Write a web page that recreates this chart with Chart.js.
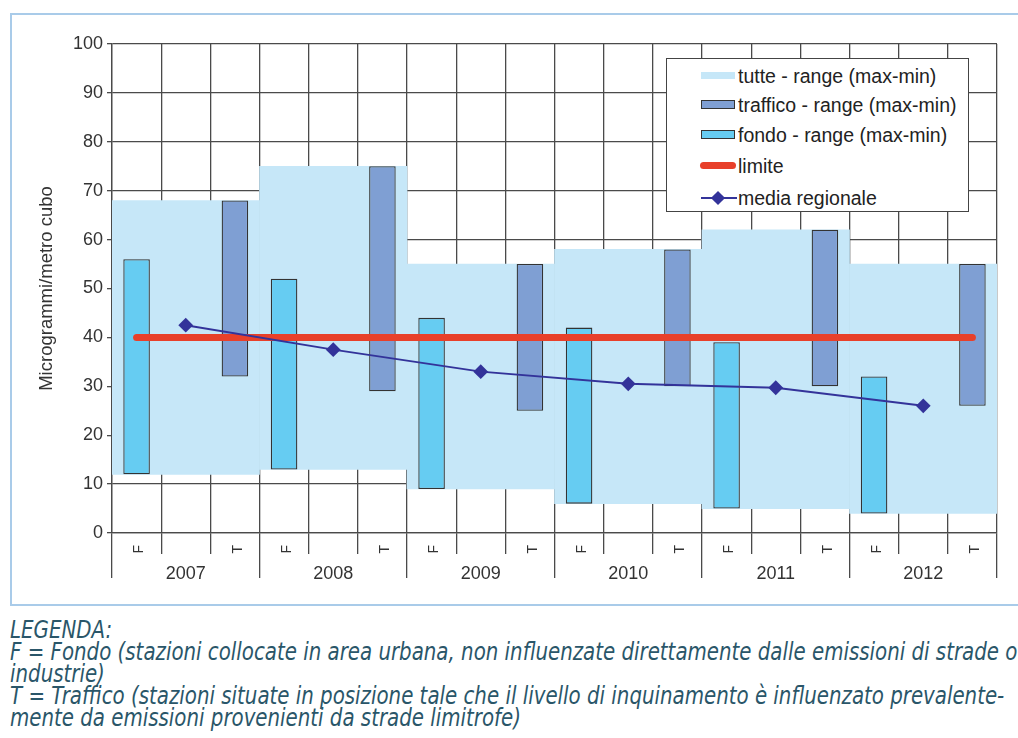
<!DOCTYPE html>
<html>
<head>
<meta charset="utf-8">
<script src="https://cdn.jsdelivr.net/npm/chart.js@4"></script>
<style>
  html, body { margin: 0; padding: 0; background: #fff; }
  #wrap { position: relative; width: 1018px; height: 738px; overflow: hidden; font-family: "Liberation Sans", Arial, sans-serif; }
  #cornice { position: absolute; left: 10px; top: 13px; width: 1040px; height: 593px; border: 2px solid #a9cbe9; box-sizing: border-box; }
  #grafico { position: absolute; left: 0; top: 0; }
  #legenda { position: absolute; left: 666px; top: 58px; width: 303px; height: 154px; box-sizing: border-box;
             border: 1.5px solid #444; background: #fff; }
  .voce { position: absolute; left: 0; height: 24px; width: 100%; }
  .voce .seg { position: absolute; left: 34px; top: 50%; box-sizing: border-box; }
  .voce span { position: absolute; left: 71px; top: 0; font-size: 19.5px; line-height: 24px; color: #222; white-space: nowrap; }
  #note { position: absolute; left: 10px; top: 619px; width: 1200px; color: #2a5669;
          font-family: "Liberation Sans Narrow", "DejaVu Sans Condensed", sans-serif; font-style: italic;
          font-size: 24px; line-height: 22px; white-space: nowrap; transform: scaleX(0.917); transform-origin: 0 0; }
</style>
</head>
<body>
<div id="wrap">
  <div id="cornice"></div>
  <canvas id="grafico" width="1018" height="600"></canvas>
  <div id="legenda">
    <div class="voce" style="top:5px"><div class="seg" style="width:34px;height:7px;margin-top:-4px;background:#c6e7f8"></div><span>tutte - range (max-min)</span></div>
    <div class="voce" style="top:34px"><div class="seg" style="width:34px;height:9px;margin-top:-5px;background:#7f9fd3;border:1.5px solid #333"></div><span>traffico - range (max-min)</span></div>
    <div class="voce" style="top:64px"><div class="seg" style="width:34px;height:9px;margin-top:-5px;background:#66ccf2;border:1.5px solid #333"></div><span>fondo - range (max-min)</span></div>
    <div class="voce" style="top:95px"><div class="seg" style="width:36px;height:7px;margin-top:-4px;left:33px;background:#e8402a;border-radius:4px"></div><span>limite</span></div>
    <div class="voce" style="top:127px"><div class="seg" style="width:36px;height:2px;margin-top:-1px;background:#33339a"></div><div class="seg" style="left:46px;width:10px;height:10px;margin-top:-5px;background:#33339a;transform:rotate(45deg)"></div><span>media regionale</span></div>
  </div>
  <div id="note">
    LEGENDA:<br>
    F = Fondo (stazioni collocate in area urbana, non influenzate direttamente dalle emissioni di strade o<br>
    industrie)<br>
    T = Traffico (stazioni situate in posizione tale che il livello di inquinamento è influenzato prevalente-<br>
    mente da emissioni provenienti da strade limitrofe)
  </div>
</div>
<script>
// dati (microgrammi/metro cubo)
const anni = ['2007', '2008', '2009', '2010', '2011', '2012'];
const tutteMin = [12, 13, 9, 6, 5, 4];
const tutteMax = [68, 75, 55, 58, 62, 55];
const fondoMin = [12, 13, 9, 6, 5, 4];
const fondoMax = [56, 52, 44, 42, 39, 32];
const trafficoMin = [32, 29, 25, 30, 30, 26];
const trafficoMax = [68, 75, 55, 58, 62, 55];
const mediaRegionale = [42.5, 37.5, 33, 30.5, 29.7, 26];
const limite = 40;
const yTicks = [0, 10, 20, 30, 40, 50, 60, 70, 80, 90, 100];

// tre colonne per anno: F, vuota, T
const colonne = [];
const fondo = [];
const traffico = [];
anni.forEach((a, i) => {
  colonne.push('F', '', 'T');
  fondo.push([fondoMin[i], fondoMax[i]], null, null);
  traffico.push(null, null, [trafficoMin[i], trafficoMax[i]]);
});
const lineaLimite = colonne.map(() => limite);
const tutte = anni.map((a, i) => [tutteMin[i], tutteMax[i]]);

const grigio = '#4a4a4a';
const ctx = document.getElementById('grafico').getContext('2d');

new Chart(ctx, {
  type: 'bar',
  data: {
    labels: colonne,
    datasets: [
      {
        label: 'media regionale',
        type: 'line',
        xAxisID: 'xAnni',
        data: mediaRegionale,
        borderColor: '#33339a',
        backgroundColor: '#33339a',
        borderWidth: 2,
        pointStyle: 'rectRot',
        pointRadius: 6,
        tension: 0,
        order: 1
      },
      {
        label: 'limite',
        type: 'line',
        xAxisID: 'x',
        data: lineaLimite,
        borderColor: '#e8402a',
        borderWidth: 7,
        borderCapStyle: 'round',
        pointRadius: 0,
        order: 2
      },
      {
        label: 'traffico - range (max-min)',
        xAxisID: 'x',
        data: traffico,
        backgroundColor: '#7f9fd3',
        borderColor: '#333',
        borderWidth: 1.3,
        borderSkipped: false,
        grouped: false,
        barPercentage: 0.54,
        categoryPercentage: 1,
        order: 3
      },
      {
        label: 'fondo - range (max-min)',
        xAxisID: 'x',
        data: fondo,
        backgroundColor: '#66ccf2',
        borderColor: '#333',
        borderWidth: 1.3,
        borderSkipped: false,
        grouped: false,
        barPercentage: 0.54,
        categoryPercentage: 1,
        order: 4
      },
      {
        label: 'tutte - range (max-min)',
        xAxisID: 'xAnni',
        data: tutte,
        backgroundColor: '#c6e7f8',
        borderWidth: 0,
        grouped: false,
        barPercentage: 1,
        categoryPercentage: 1,
        order: 5
      }
    ]
  },
  options: {
    responsive: false,
    animation: false,
    layout: { padding: { left: 0, top: 44, right: 21, bottom: 0 } },
    plugins: {
      legend: { display: false },
      tooltip: { enabled: false }
    },
    scales: {
      // colonne F / T: le etichette stanno tra le tacche
      x: {
        type: 'category',
        position: 'bottom',
        offset: true,
        grid: { offset: true, color: grigio, lineWidth: 1.3, tickLength: 21 },
        border: { color: grigio, width: 1.3 },
        ticks: {
          autoSkip: false, minRotation: 90, maxRotation: 90, padding: -9, labelOffset: 3,
          color: '#333', font: { size: 14, family: 'Liberation Sans, Arial' }
        },
        afterFit: s => { s.height = 21; }
      },
      // anni: tacche lunghe che proseguono quelle delle colonne
      xAnni: {
        type: 'category',
        position: 'bottom',
        labels: anni,
        offset: true,
        grid: { offset: true, drawOnChartArea: false, color: grigio, lineWidth: 1.3, tickLength: 24 },
        border: { display: false },
        ticks: {
          autoSkip: false, maxRotation: 0, padding: -15,
          color: '#333', font: { size: 18, family: 'Liberation Sans, Arial' }
        },
        afterFit: s => { s.height = 46; }
      },
      y: {
        min: 0,
        max: 100,
        afterBuildTicks: s => { s.ticks = yTicks.map(v => ({ value: v })); },
        grid: { color: grigio, lineWidth: 1.3, tickLength: 5 },
        border: { color: grigio, width: 1.3 },
        ticks: { padding: 4, color: '#333', font: { size: 18, family: 'Liberation Sans, Arial' } },
        title: {
          display: true,
          text: 'Microgrammi/metro cubo',
          color: '#333',
          font: { size: 18.5, family: 'Liberation Sans, Arial' },
          padding: { top: 36, bottom: 0 }
        },
        afterFit: s => { s.width = 112; }
      }
    }
  }
});
</script>
</body>
</html>
